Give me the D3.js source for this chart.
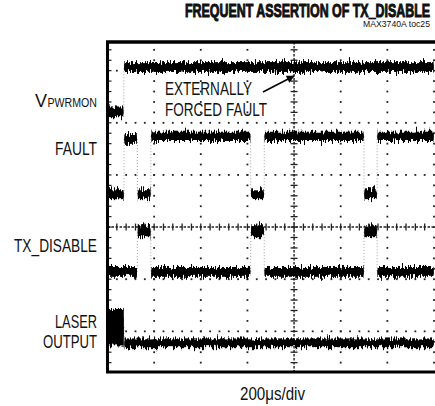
<!DOCTYPE html>
<html>
<head>
<meta charset="utf-8">
<script src="https://cdn.jsdelivr.net/npm/d3@7"></script>
<style>
  body { margin: 0; background: #fff; }
  svg { display: block; }
  .lbl { font-family: "Liberation Sans", Arial, sans-serif; fill: #111; }
</style>
</head>
<body>
<div id="scope"></div>
<script>
// scope trace data, time in divisions from the left edge, level in divisions from centre
var vpwrmonEdges = [0, 0.35, 7];
var vpwrmonLevels = [2.22, 3.07];
var vpwrmonSpans = [0.15, 0.15];

var faultEdges = [0, 0.355, 0.64, 0.93, 3.07, 3.36, 5.5, 5.78, 7];
var faultLevels = [0.63, 1.69, 0.63, 1.74, 0.63, 1.74, 0.63, 1.74];
var faultSpans = [0.15, 0.15, 0.15, 0.14, 0.15, 0.14, 0.15, 0.14];

var txEdges = [0, 0.64, 0.93, 3.07, 3.36, 5.5, 5.78, 7];
var txLevels = [-0.86, -0.08, -0.86, -0.08, -0.86, -0.08, -0.86];
var txSpans = [0.15, 0.19, 0.15, 0.19, 0.15, 0.19, 0.15];

var laserEdges = [0, 0.355, 7];
var laserLevels = [-1.92, -2.22];
var laserSpans = [0.66, 0.13];

var traces = [
  { edges: vpwrmonEdges, levels: vpwrmonLevels, spans: vpwrmonSpans },
  { edges: faultEdges, levels: faultLevels, spans: faultSpans },
  { edges: txEdges, levels: txLevels, spans: txSpans },
  { edges: laserEdges, levels: laserLevels, spans: laserSpans }
];

var width = 435;
var height = 406;

var svg = d3.select("#scope")
  .append("svg")
  .attr("width", width)
  .attr("height", height);

// screen is cropped: 7 divisions across, from -2.78 to +3.55 divisions tall
var x = d3.scaleLinear().domain([0, 7]).range([107.5, 434]);
var y = d3.scaleLinear().domain([-2.78, 3.55]).range([372, 42]);

var defs = svg.append("defs");

// jitter filters for the traces (vertical displacement only)
function noiseFilter(id, seed, freq, amount) {
  var f = defs.append("filter")
    .attr("id", id)
    .attr("filterUnits", "userSpaceOnUse")
    .attr("x", 100).attr("y", 30).attr("width", 340).attr("height", 350)
    .attr("color-interpolation-filters", "sRGB");
  f.append("feTurbulence")
    .attr("type", "fractalNoise")
    .attr("baseFrequency", freq)
    .attr("numOctaves", 2)
    .attr("seed", seed)
    .attr("result", "turb");
  f.append("feColorMatrix")
    .attr("in", "turb")
    .attr("type", "matrix")
    .attr("values", "0 0 0 0 0.5  0 1 0 0 0  0 0 1 0 0  0 0 0 0 1")
    .attr("result", "map");
  f.append("feDisplacementMap")
    .attr("in", "SourceGraphic")
    .attr("in2", "map")
    .attr("scale", amount)
    .attr("xChannelSelector", "R")
    .attr("yChannelSelector", "G");
}
noiseFilter("noiseA", 3, "0.85 0.03", 16);
noiseFilter("noiseB", 11, "0.7 0.05", 14);

// graticule
var grid = svg.append("g").attr("class", "grid");
var rows = [-2, -1, 1, 2, 3];
var cols = [1, 2, 3, 5, 6, 7];
var xMinor = d3.range(1, 35).map(function(i) { return i / 5; });
var yMinor = d3.range(-13, 18).map(function(j) { return j / 5; });

rows.forEach(function(r) {
  grid.selectAll(null)
    .data(xMinor)
    .enter()
    .append("rect")
    .attr("x", function(d) { return x(d) - 0.9; })
    .attr("y", y(r) - 0.9)
    .attr("width", 1.8)
    .attr("height", 1.8)
    .attr("fill", "#222");
});
cols.forEach(function(c) {
  grid.selectAll(null)
    .data(yMinor)
    .enter()
    .append("rect")
    .attr("x", x(c) - 0.9)
    .attr("y", function(d) { return y(d) - 0.9; })
    .attr("width", 1.8)
    .attr("height", 1.8)
    .attr("fill", "#222");
});

// centre cross with minor ticks
grid.append("line")
  .attr("x1", x(4)).attr("x2", x(4))
  .attr("y1", y(3.55)).attr("y2", y(-2.78))
  .attr("stroke", "#222")
  .attr("stroke-width", 1.4)
  .attr("stroke-dasharray", "2.5 1.5");
grid.append("line")
  .attr("x1", x(0)).attr("x2", x(7))
  .attr("y1", y(0)).attr("y2", y(0))
  .attr("stroke", "#222")
  .attr("stroke-width", 1.4)
  .attr("stroke-dasharray", "2.5 1.5");
grid.selectAll(".vtick")
  .data(yMinor)
  .enter()
  .append("line")
  .attr("class", "vtick")
  .attr("x1", x(4) - 3.5).attr("x2", x(4) + 3.5)
  .attr("y1", function(d) { return y(d); })
  .attr("y2", function(d) { return y(d); })
  .attr("stroke", "#222")
  .attr("stroke-width", 1.3);
grid.selectAll(".htick")
  .data(xMinor)
  .enter()
  .append("line")
  .attr("class", "htick")
  .attr("y1", y(0) - 3.5).attr("y2", y(0) + 3.5)
  .attr("x1", function(d) { return x(d); })
  .attr("x2", function(d) { return x(d); })
  .attr("stroke", "#222")
  .attr("stroke-width", 1.3);
// ticks on the left frame
grid.selectAll(".ltick")
  .data(yMinor)
  .enter()
  .append("line")
  .attr("class", "ltick")
  .attr("x1", x(0)).attr("x2", x(0) + 4)
  .attr("y1", function(d) { return y(d); })
  .attr("y2", function(d) { return y(d); })
  .attr("stroke", "#222")
  .attr("stroke-width", 1.2);

// traces
var traceG = svg.append("g").attr("class", "traces");
traces.forEach(function(tr) {
  var segs = tr.levels.map(function(lv, i) {
    return { t0: tr.edges[i], t1: tr.edges[i + 1], level: lv, span: tr.spans[i] };
  });

  // faint edges between levels
  traceG.selectAll(null)
    .data(segs.slice(1))
    .enter()
    .append("line")
    .attr("x1", function(d) { return x(d.t0); })
    .attr("x2", function(d) { return x(d.t0); })
    .attr("y1", function(d, i) { return y(segs[i].level); })
    .attr("y2", function(d) { return y(d.level); })
    .attr("stroke", "#a0a0a0")
    .attr("stroke-width", 1)
    .attr("stroke-dasharray", "1 2");

  // solid core plus two jittered copies give the thick noisy band
  [null, "noiseA", "noiseB"].forEach(function(fid) {
    var g = traceG.append("g");
    if (fid) g.attr("filter", "url(#" + fid + ")");
    var shrink = fid ? 1 : 0.55;
    g.selectAll("rect")
      .data(segs)
      .enter()
      .append("rect")
      .attr("x", function(d) { return x(d.t0) + 0.5; })
      .attr("width", function(d) { return x(d.t1) - x(d.t0) - 1; })
      .attr("y", function(d) { return y(d.level + d.span * shrink / 2); })
      .attr("height", function(d) { return y(d.level - d.span * shrink / 2) - y(d.level + d.span * shrink / 2); })
      .attr("fill", "#000");
  });
});

// frame (right side is cropped)
var frame = svg.append("g").attr("class", "frame");
frame.append("line")
  .attr("x1", x(0) - 1.5).attr("x2", width)
  .attr("y1", y(3.55)).attr("y2", y(3.55))
  .attr("stroke", "#000").attr("stroke-width", 3.5);
frame.append("line")
  .attr("x1", x(0) - 1.5).attr("x2", width)
  .attr("y1", y(-2.78)).attr("y2", y(-2.78))
  .attr("stroke", "#000").attr("stroke-width", 3);
frame.append("line")
  .attr("x1", x(0)).attr("x2", x(0))
  .attr("y1", y(3.55)).attr("y2", y(-2.78))
  .attr("stroke", "#000").attr("stroke-width", 3);

// labels: condensed look by squeezing to the measured width
function label(txt, x0, base, size, len) {
  return svg.append("text")
    .attr("class", "lbl")
    .attr("x", x0)
    .attr("y", base)
    .attr("font-size", size)
    .attr("textLength", len)
    .attr("lengthAdjust", "spacingAndGlyphs")
    .text(txt);
}
label("V", 35, 107, 19, 12);
label("PWRMON", 47.5, 107, 12, 49.5);
label("FAULT", 55, 155, 19, 42);
label("TX_DISABLE", 14, 252, 19, 83);
label("LASER", 55, 328, 19, 42);
label("OUTPUT", 43, 348, 19, 54);

// annotation
label("EXTERNALLY", 165, 95, 19, 87);
label("FORCED FAULT", 165, 116, 19, 102);
defs.append("marker")
  .attr("id", "head")
  .attr("viewBox", "0 0 10 10")
  .attr("refX", 9).attr("refY", 5)
  .attr("markerWidth", 11).attr("markerHeight", 8)
  .attr("markerUnits", "userSpaceOnUse")
  .attr("orient", "auto")
  .append("path")
  .attr("d", "M0,0L10,5L0,10Z")
  .attr("fill", "#000");
svg.append("line")
  .attr("x1", 263).attr("y1", 92)
  .attr("x2", 294).attr("y2", 76)
  .attr("stroke", "#000")
  .attr("stroke-width", 1.7)
  .attr("marker-end", "url(#head)");

// title and footer
label("FREQUENT ASSERTION OF TX_DISABLE", 185, 16.5, 19, 245)
  .attr("font-weight", "bold")
  .attr("stroke", "#111")
  .attr("stroke-width", 1);
label("MAX3740A toc25", 363, 27, 9, 67);
label("200\u03bcs/div", 240, 400, 19, 65);
</script>
</body>
</html>
